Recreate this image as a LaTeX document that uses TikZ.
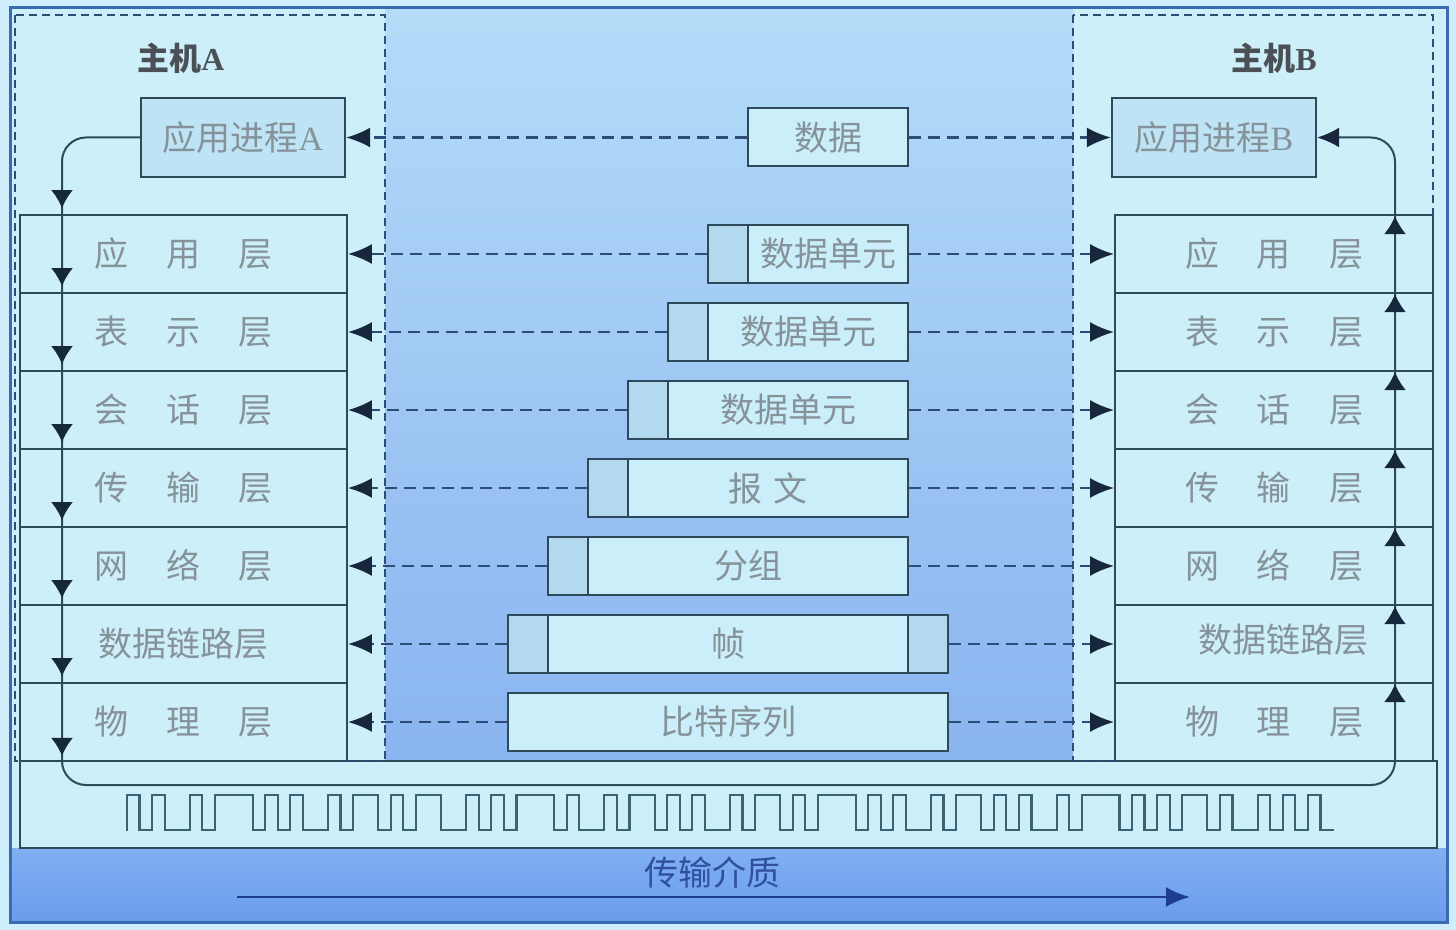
\documentclass[tikz,border=0pt]{standalone}
\usepackage{fontspec}
\setmainfont{Liberation Serif}
\newfontfamily\cjk{Noto Sans CJK SC}
\usetikzlibrary{arrows.meta,calc}
\definecolor{bgc}{HTML}{CDEEFA}
\definecolor{hostc}{HTML}{CCEFFA}
\definecolor{appc}{HTML}{BDE3F4}
\definecolor{pktc}{HTML}{CBEFFA}
\definecolor{hdrc}{HTML}{B2D9EE}
\definecolor{linec}{HTML}{2E4A5A}
\definecolor{ctop}{HTML}{B4DCF8}
\definecolor{cbot}{HTML}{8AB4F0}
\definecolor{bandtop}{HTML}{80B0F2}
\definecolor{bandbot}{HTML}{6A9CEC}
\definecolor{framec}{HTML}{3A6AB0}
\definecolor{dashc}{HTML}{2E4C78}
\definecolor{tipc}{HTML}{18283C}
\definecolor{txtc}{HTML}{86929A}
\definecolor{hosttext}{HTML}{4A5056}
\definecolor{medtext}{HTML}{3050A0}
\definecolor{medarrow}{HTML}{1E3C90}
\definecolor{wavec}{HTML}{3A6474}
\newcommand\labfont{\cjk\fontsize{17}{20}\selectfont}
\begin{document}
\begin{tikzpicture}[x=0.5pt,y=-0.5pt,
  layer/.style={draw=linec, line width=0.9pt, fill=hostc, inner sep=0pt, text=txtc, font=\labfont, minimum height=39pt},
  lstack/.style={layer, minimum width=163.5pt},
  rstack/.style={layer, minimum width=159pt},
  app/.style={draw=linec, line width=1.1pt, fill=appc, inner sep=0pt, minimum width=102pt, minimum height=39.5pt, text=txtc, font=\labfont},
  pkt/.style={draw=linec, line width=1pt, fill=pktc, inner sep=0pt, minimum height=29pt, text=txtc, font=\labfont},
  hdr/.style={pkt, fill=hdrc, minimum width=20pt},
  dl/.style={draw=dashc, line width=1.2pt, dash pattern=on 6pt off 3.5pt, -{Latex[length=12pt,width=10pt,color=tipc]}},
  chain/.style={draw=linec, line width=1pt},
  tipa/.style={draw=linec, line width=1pt, -{Latex[length=9pt,width=11pt,color=tipc]}},
  hostdash/.style={draw=dashc, line width=1.3pt, dash pattern=on 4pt off 2.5pt},
  wave/.style={draw=wavec, line width=1.1pt, line cap=rect},
  hostlab/.style={text=hosttext, font=\cjk\fontsize{16}{18}\selectfont\bfseries}
]
\useasboundingbox (0,0) rectangle (1456,930);
% backgrounds
\fill[bgc] (0,0) rectangle (1456,930);
\fill[hostc] (10,8) rectangle (1447,922);
\shade[top color=ctop, bottom color=cbot] (385,8) rectangle (1073,761);
\shade[top color=bandtop, bottom color=bandbot] (10,848) rectangle (1447,922);
\filldraw[fill=hostc, draw=linec, line width=1.2pt] (20,761) rectangle (1437,848);
\draw[framec, line width=1.5pt] (10,8) rectangle (1447,922);
\draw[hostdash] (15,15) rectangle (385,761);
\draw[hostdash] (1073,15) rectangle (1433,761);

% host labels
\node[hostlab] (hA) at (181,58) {主机{\rmfamily\bfseries A}};
\node[hostlab] (hB) at (1274,58) {主机{\rmfamily\bfseries B}};

% application processes
\node[app] (appA) at (243,137.5) {应用进程{\rmfamily A}};
\node[app] (appB) at (1214,137.5) {应用进程{\rmfamily B}};

% stacks
\node[lstack] (L1) at (183.5,254) {应\hspace{19pt}用\hspace{19pt}层};
\node[lstack] (L2) at (183.5,332) {表\hspace{19pt}示\hspace{19pt}层};
\node[lstack] (L3) at (183.5,410) {会\hspace{19pt}话\hspace{19pt}层};
\node[lstack] (L4) at (183.5,488) {传\hspace{19pt}输\hspace{19pt}层};
\node[lstack] (L5) at (183.5,566) {网\hspace{19pt}络\hspace{19pt}层};
\node[lstack] (L6) at (183.5,644) {数据链路层};
\node[lstack] (L7) at (183.5,722) {物\hspace{19pt}理\hspace{19pt}层};

\node[rstack] (R1) at (1274,254) {应\hspace{19pt}用\hspace{19pt}层};
\node[rstack] (R2) at (1274,332) {表\hspace{19pt}示\hspace{19pt}层};
\node[rstack] (R3) at (1274,410) {会\hspace{19pt}话\hspace{19pt}层};
\node[rstack] (R4) at (1274,488) {传\hspace{19pt}输\hspace{19pt}层};
\node[rstack] (R5) at (1274,566) {网\hspace{19pt}络\hspace{19pt}层};
\node[rstack] (R6) at (1274,644) {};
\node[text=txtc, font=\labfont, inner sep=0pt] (R6t) at (1283,640) {数据链路层};
\node[rstack] (R7) at (1274,722) {物\hspace{19pt}理\hspace{19pt}层};

% packets
\node[pkt, minimum width=80pt] (p0) at (828,137.5) {数据};
\node[hdr] (h1) at (728,254) {};
\node[pkt, minimum width=80pt] (p1) at (828,254) {数据单元};
\node[hdr] (h2) at (688,332) {};
\node[pkt, minimum width=100pt] (p2) at (808,332) {数据单元};
\node[hdr] (h3) at (648,410) {};
\node[pkt, minimum width=120pt] (p3) at (788,410) {数据单元};
\node[hdr] (h4) at (608,488) {};
\node[pkt, minimum width=140pt] (p4) at (768,488) {报\hspace{6pt}文};
\node[hdr] (h5) at (568,566) {};
\node[pkt, minimum width=160pt] (p5) at (748,566) {分组};
\node[hdr] (h6) at (528,644) {};
\node[pkt, minimum width=180pt] (p6) at (728,644) {帧};
\node[hdr] (t6) at (928,644) {};
\node[pkt, minimum width=220pt] (p7) at (728,722) {比特序列};

% dashed peer connectors
\draw[dl] (p0.west) -- (appA.east);
\draw[dl] (p0.east) -- (appB.west);
\draw[dl] (h1.west) -- (L1.east);
\draw[dl] (p1.east) -- (R1.west);
\draw[dl] (h2.west) -- (L2.east);
\draw[dl] (p2.east) -- (R2.west);
\draw[dl] (h3.west) -- (L3.east);
\draw[dl] (p3.east) -- (R3.west);
\draw[dl] (h4.west) -- (L4.east);
\draw[dl] (p4.east) -- (R4.west);
\draw[dl] (h5.west) -- (L5.east);
\draw[dl] (p5.east) -- (R5.west);
\draw[dl] (h6.west) -- (L6.east);
\draw[dl] (t6.east) -- (R6.west);
\draw[dl] (p7.west) -- (L7.east);
\draw[dl] (p7.east) -- (R7.west);

% vertical data flow
\coordinate (cL) at (62,0);
\coordinate (cR) at (1395,0);
\coordinate (bot) at (0,785);
\draw[chain, rounded corners=12pt, -{Latex[length=11pt,width=10pt,color=tipc]}]
  (appA.west) -| (cL |- bot) -| (cR |- appB.east) -- (appB.east);
\foreach \n in {L1,L2,L3,L4,L5,L6,L7}
  \draw[tipa, shorten >=3pt] ($(cL |- \n.north)+(0,12pt)$) -- (cL |- \n.north);
\draw[tipa, shorten >=3pt] ($(cL |- L7.south)+(0,12pt)$) -- (cL |- L7.south);
\foreach \n in {R1,R2,R3,R4,R5,R6,R7}
  \draw[tipa, shorten >=1pt] (cR |- \n.south) -- (cR |- \n.north);

% square wave
\foreach \b [count=\i from 0, remember=\b as \p (initially 0)] in
  {1,0,1,0,0,1,0,1,1,1,0,1,0,1,0,0,1,0,1,1,
   0,1,0,1,1,0,0,1,0,1,0,1,1,1,0,1,0,0,1,0,
   1,1,0,1,0,1,0,0,1,0,1,1,0,1,0,1,1,1,0,1,
   0,1,0,0,1,0,1,1,0,1,0,1,0,0,1,0,1,1,1,0,
   1,0,1,0,1,1,0,1,0,0,1,0,1,0,1,0}
{
  \draw[wave] ({127+\i*12.5625},{830-35*\b}) -- ++(12.5625,0);
  \ifnum\b=\p\relax\else
    \draw[wave] ({127+\i*12.5625},795) -- ({127+\i*12.5625},830);
  \fi
}

% medium
\node[text=medtext, font=\labfont] (med) at (712,872) {传输介质};
\coordinate (m1) at (237,897);
\coordinate (m2) at (1190,897);
\draw[medarrow, line width=1.4pt, -{Latex[length=12pt,width=10pt]}] (m1) -- (m2);
\end{tikzpicture}
\end{document}
